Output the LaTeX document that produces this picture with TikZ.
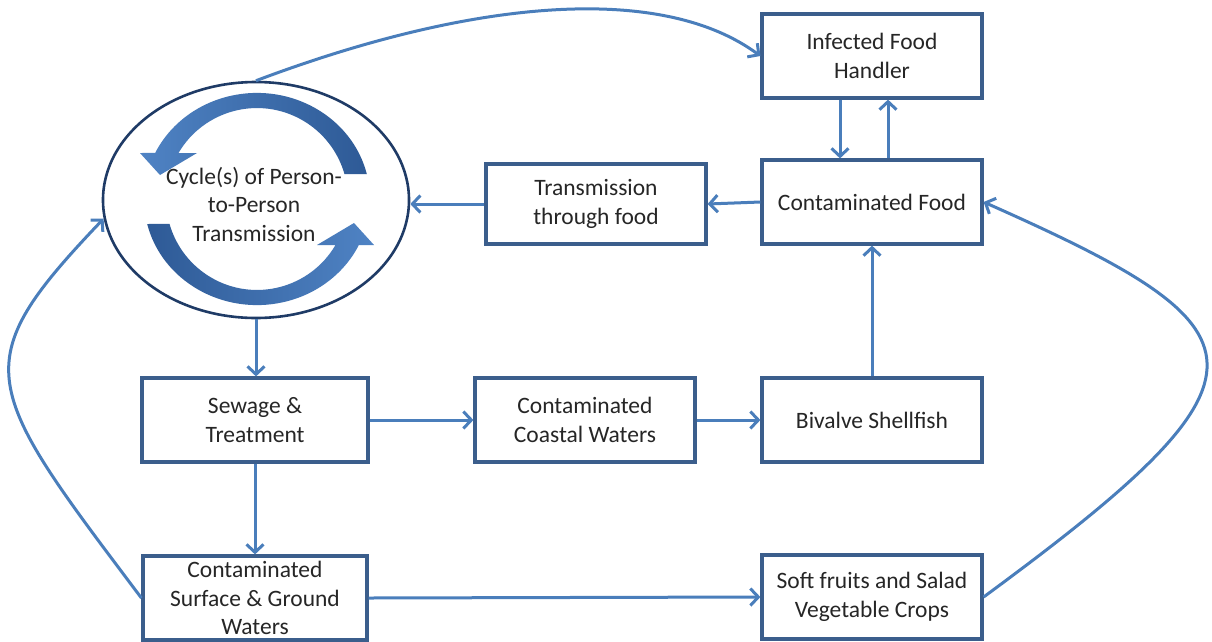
\documentclass[tikz,border=0pt]{standalone}
\usepackage{fontspec}
\setmainfont{Carlito}
\usetikzlibrary{arrows.meta,shapes.geometric}
\definecolor{boxline}{HTML}{3B5E8C}
\definecolor{conn}{HTML}{4A7EBB}
\definecolor{ringline}{HTML}{1F3B66}
\definecolor{cycdark}{HTML}{2E5A96}
\definecolor{cyclight}{HTML}{4F83C4}
\definecolor{txt}{HTML}{262626}

\begin{document}
\begin{tikzpicture}[x=1pt,y=-1pt,
  lbl/.style={text=txt, align=center, font=\fontsize{23.5}{28.5}\selectfont},
  box/.style={lbl, draw=boxline, line width=3.2pt, fill=white,
    minimum width=220pt, minimum height=84pt, inner sep=0pt},
  link/.style={draw=conn, line width=3pt,
    -{Straight Barb[length=8pt,width=17pt]}},
]
\useasboundingbox (0,0) rectangle (1212,641);

% central ring
\node[ellipse, draw=ringline, line width=2.6pt, fill=white,
  minimum width=306pt, minimum height=236pt, inner sep=0pt] (cyc) at (256,200) {};

% the two curved arrows inside the ring (tapered bands with a broad head)
\begin{scope}[shift={(257,199)}, yscale=-1]
  \shade[left color=cyclight, right color=cycdark]
    (109.8,25) arc[start angle=13.6, end angle=154.3, x radius=113, y radius=106]
    -- (-117,46) -- (-97,24) -- (-60,46) -- (-78.5,46)
    arc[start angle=149.6, end angle=15.9, radius=91] -- cycle;
  \shade[left color=cycdark, right color=cyclight]
    (-109.8,-25) arc[start angle=193.6, end angle=334.3, x radius=113, y radius=106]
    -- (117,-46) -- (97,-24) -- (60,-46) -- (78.5,-46)
    arc[start angle=329.6, end angle=195.9, radius=91] -- cycle;
\end{scope}
\node[lbl] (cyctext) at (254,204) {Cycle(s) of Person-\\to-Person\\Transmission};

% boxes
\node[box] (ifh) at (872,56)  {Infected Food\\Handler};
\node[box] (cf)  at (872,202) {Contaminated Food};
\node[box, minimum height=80pt] (tf) at (596,204) {Transmission\\through food};
\node[box, minimum width=226pt] (sew) at (255,420) {Sewage \&\\Treatment};
\node[box] (ccw) at (585,420) {Contaminated\\Coastal Waters};
\node[box] (biv) at (872,420) {Bivalve Shellfish};
\node[box, minimum width=224pt] (sgw) at (255,598) {Contaminated\\Surface \& Ground\\Waters};
\node[box] (sfv) at (872,597) {Soft fruits and Salad\\Vegetable Crops};

% straight connectors
\draw[link] ([xshift=-32pt]ifh.south) -- ([xshift=-32pt]cf.north);
\draw[link] ([xshift=16pt]cf.north) -- ([xshift=16pt]ifh.south);
\draw[link] (cf.west) -- (tf.east);
\draw[link] (tf.west) -- (tf.west -| cyc.east);
\draw[link] (cyc.south) -- (cyc.south |- sew.north);
\draw[link] (sew.east) -- (ccw.west);
\draw[link] (ccw.east) -- (biv.west);
\draw[link] (biv.north) -- (cf.south);
\draw[link] (sew.south) -- (sgw.north);
\draw[link] (sgw.east) -- (sfv.west);

% curved connectors
\draw[link] (cyc.north) .. controls (470,0) and (660,-18) .. (ifh.west);
\draw[link] (sgw.west) .. controls (-19,385) and (-36,365) .. (cyc.187);
\draw[link] (sfv.east) .. controls (1290,372) and (1272,330) .. (cf.east);
\end{tikzpicture}
\end{document}
